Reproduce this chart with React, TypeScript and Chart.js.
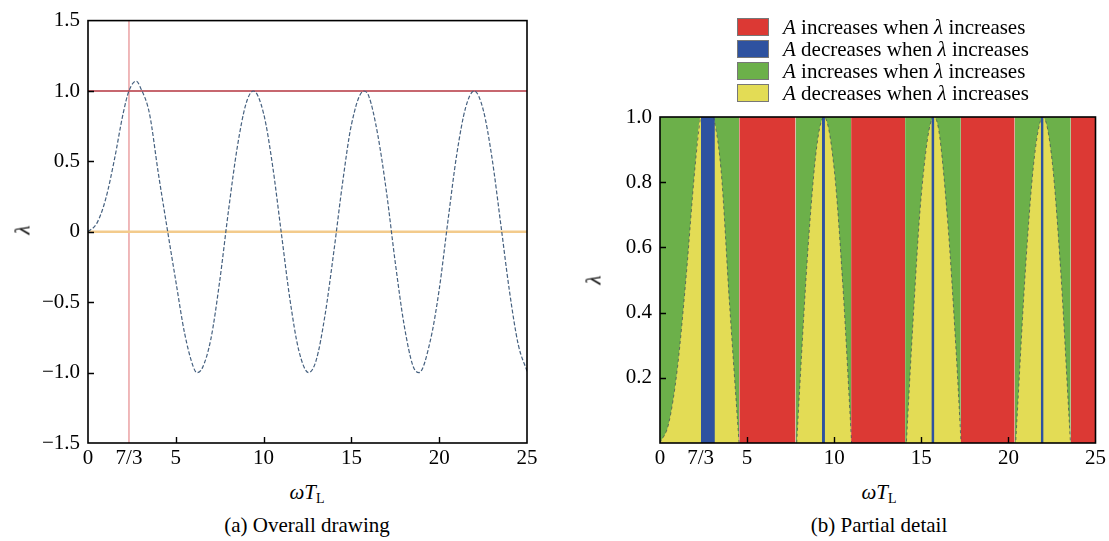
import React, { useEffect, useRef } from 'react';
import { Chart, registerables } from 'chart.js';

Chart.register(...registerables);

const FONT = "'Liberation Serif', 'Times New Roman', serif";
const FS = 21;

// ωT_L sample positions and λ
const omegaTL = [
  0, 0.5, 1, 1.5, 2, 2.33, 2.75, 3, 3.5, 4, 4.5, 5, 5.5, 6, 6.2, 6.5, 7, 7.5, 8, 8.5,
  9, 9.42, 10, 10.5, 11, 11.5, 12, 12.57, 13, 13.5, 14, 14.5, 15, 15.71, 16, 16.5,
  17, 17.5, 18, 18.5, 18.85, 19.5, 20, 20.5, 21, 21.5, 21.99, 22.5, 23, 23.5, 24, 24.5, 25,
];
const lambdaValues = [
  0, 0.06, 0.23, 0.51, 0.84, 1.0, 1.07, 1.02, 0.84, 0.42, 0.03, -0.35, -0.72, -0.96, -1.0, -0.97, -0.76, -0.35, 0.15, 0.6,
  0.91, 1.0, 0.84, 0.48, 0.0, -0.48, -0.84, -1.0, -0.91, -0.59, -0.14, 0.35, 0.76, 1.0, 0.96, 0.69,
  0.28, -0.22, -0.66, -0.95, -1.0, -0.77, -0.41, 0.08, 0.55, 0.88, 1.0, 0.87, 0.53, 0.06, -0.42, -0.8, -0.99,
];

// reference lines of panel (a)
const upperLevel = 1;
const zeroLevel = 0;
const crossOmega = 7 / 3;

// tick labels
const xTickValues = [0, 7 / 3, 5, 10, 15, 20, 25];
const xTickLabels = ['0', '7/3', '5', '10', '15', '20', '25'];
const leftYTickValues = [-1.5, -1, -0.5, 0, 0.5, 1, 1.5];
const leftYTickLabels = ['\u22121.5', '\u22121.0', '\u22120.5', '0', '0.5', '1.0', '1.5'];
const rightYTickValues = [0.2, 0.4, 0.6, 0.8, 1.0];
const rightYTickLabels = ['0.2', '0.4', '0.6', '0.8', '1.0'];

// region bands of panel (b), [start, end] in ωT_L
const redBands = [[4.55, 7.78], [10.97, 14.07], [17.27, 20.36], [23.58, 25]];
const greenBands = [[0, 4.55], [7.78, 10.97], [14.07, 17.27], [20.36, 23.58]];
const blueBands = [[2.35, 3.15], [9.3, 9.47], [15.58, 15.75], [21.86, 22.02]];

const RED = '#dc3934';
const BLUE = '#2e52a0';
const GREEN = '#6cb04a';
const YELLOW = '#e3dc55';

const legendLabels = [
  { color: RED, verb: 'increases' },
  { color: BLUE, verb: 'decreases' },
  { color: GREEN, verb: 'increases' },
  { color: YELLOW, verb: 'decreases' },
];

const framePlugin = {
  id: 'frameTicks',
  afterDraw(chart: any, _args: any, opts: any) {
    const { ctx, chartArea: a } = chart;
    const xs = chart.scales.x;
    const ys = chart.scales.y;
    ctx.save();
    ctx.strokeStyle = '#000';
    ctx.lineWidth = 1.6;
    ctx.strokeRect(a.left, a.top, a.right - a.left, a.bottom - a.top);
    ctx.lineWidth = 1.4;
    ctx.beginPath();
    for (const v of opts.xMarks || []) {
      const px = Math.round(xs.getPixelForValue(v)) + 0.5;
      ctx.moveTo(px, a.bottom);
      ctx.lineTo(px, a.bottom - 6);
    }
    for (const v of opts.yMarks || []) {
      const py = Math.round(ys.getPixelForValue(v)) + 0.5;
      ctx.moveTo(a.left, py);
      ctx.lineTo(a.left + 6, py);
    }
    ctx.stroke();
    ctx.restore();
  },
};

function curvePoints(cap?: number) {
  return omegaTL.map((x, i) => ({
    x,
    y: cap === undefined ? lambdaValues[i] : Math.min(lambdaValues[i], cap),
  }));
}

function bandDataset(band: number[], color: string, order: number) {
  return {
    data: [{ x: band[0], y: 1 }, { x: band[1], y: 1 }],
    borderColor: 'transparent',
    borderWidth: 0,
    backgroundColor: color,
    fill: 'origin',
    pointRadius: 0,
    tension: 0,
    order,
  };
}

function scalesFor(yMin: number, yMax: number, yVals: number[], yLabels: string[], yWidth: number, xHeight: number) {
  const tickFont = { family: FONT, size: FS };
  return {
    x: {
      type: 'linear',
      min: 0,
      max: 25,
      afterBuildTicks: (s: any) => {
        s.ticks = xTickValues.map((v) => ({ value: v }));
      },
      afterFit: (s: any) => {
        s.height = xHeight;
      },
      ticks: {
        callback: (_v: any, i: number) => xTickLabels[i],
        font: tickFont,
        color: '#000',
        padding: 3,
        maxRotation: 0,
        autoSkip: false,
      },
      grid: { display: false, drawTicks: false },
      border: { display: false },
    },
    y: {
      type: 'linear',
      min: yMin,
      max: yMax,
      afterBuildTicks: (s: any) => {
        s.ticks = yVals.map((v) => ({ value: v }));
      },
      afterFit: (s: any) => {
        s.width = yWidth;
      },
      ticks: {
        callback: (_v: any, i: number) => yLabels[i],
        font: tickFont,
        color: '#000',
        padding: 8,
        autoSkip: false,
      },
      grid: { display: false, drawTicks: false },
      border: { display: false },
    },
  };
}

function LeftChart() {
  const ref = useRef<HTMLCanvasElement>(null);
  useEffect(() => {
    const chart = new Chart(ref.current as HTMLCanvasElement, {
      type: 'line',
      data: {
        datasets: [
          {
            data: curvePoints(),
            borderColor: '#45607f',
            borderWidth: 1.2,
            borderDash: [4, 2],
            pointRadius: 0,
            cubicInterpolationMode: 'monotone',
            fill: false,
            order: 0,
          },
          {
            data: [{ x: 0, y: upperLevel }, { x: 25, y: upperLevel }],
            borderColor: '#b4343f',
            borderWidth: 1.5,
            pointRadius: 0,
            fill: false,
            order: 1,
          },
          {
            data: [{ x: 0, y: zeroLevel }, { x: 25, y: zeroLevel }],
            borderColor: '#f3cb8c',
            borderWidth: 2.5,
            pointRadius: 0,
            fill: false,
            order: 2,
          },
          {
            data: [{ x: crossOmega, y: -1.5 }, { x: crossOmega, y: 1.5 }],
            borderColor: '#e58a8c',
            borderWidth: 1.2,
            pointRadius: 0,
            fill: false,
            order: 3,
          },
        ],
      } as any,
      options: {
        responsive: false,
        animation: false,
        layout: { padding: { top: 16, right: 18, left: 0, bottom: 0 } },
        plugins: {
          legend: { display: false },
          tooltip: { enabled: false },
          frameTicks: { xMarks: [5, 10, 15, 20], yMarks: [-1, -0.5, 0, 0.5, 1] },
        } as any,
        scales: scalesFor(-1.5, 1.5, leftYTickValues, leftYTickLabels, 88, 32) as any,
      },
      plugins: [framePlugin],
    });
    return () => chart.destroy();
  }, []);
  return <canvas ref={ref} width={545} height={475} style={{ position: 'absolute', left: 0, top: 0 }} />;
}

function RightChart() {
  const ref = useRef<HTMLCanvasElement>(null);
  useEffect(() => {
    const datasets: any[] = [
      {
        data: curvePoints(),
        borderColor: 'rgba(60,72,90,0.7)',
        borderWidth: 1,
        borderDash: [3, 3],
        pointRadius: 0,
        cubicInterpolationMode: 'monotone',
        fill: false,
        order: 0,
      },
      ...blueBands.map((b) => bandDataset(b, BLUE, 1)),
      ...redBands.map((b) => bandDataset(b, RED, 2)),
      {
        data: curvePoints(1),
        borderColor: 'transparent',
        borderWidth: 0,
        backgroundColor: YELLOW,
        fill: 'origin',
        pointRadius: 0,
        cubicInterpolationMode: 'monotone',
        order: 3,
      },
      ...greenBands.map((b) => bandDataset(b, GREEN, 4)),
    ];
    const chart = new Chart(ref.current as HTMLCanvasElement, {
      type: 'line',
      data: { datasets } as any,
      options: {
        responsive: false,
        animation: false,
        layout: { padding: { top: 117, right: 11, left: 0, bottom: 0 } },
        plugins: {
          legend: { display: false },
          tooltip: { enabled: false },
          frameTicks: { xMarks: [5, 10, 15, 20], yMarks: [0.2, 0.4, 0.6, 0.8] },
        } as any,
        scales: scalesFor(0, 1, rightYTickValues, rightYTickLabels, 100, 32) as any,
      },
      plugins: [framePlugin],
    });
    return () => chart.destroy();
  }, []);
  return <canvas ref={ref} width={549} height={475} style={{ position: 'absolute', left: 560, top: 0 }} />;
}

const textBase: React.CSSProperties = {
  position: 'absolute',
  fontFamily: FONT,
  fontSize: FS,
  color: '#000',
  lineHeight: 1,
  whiteSpace: 'nowrap',
  transform: 'translate(-50%, -50%)',
};

function AxisX({ cx }: { cx: number }) {
  return (
    <div style={{ ...textBase, left: cx, top: 492 }}>
      <i>ωT</i>
      <span style={{ fontSize: 14, position: 'relative', top: 4 }}>L</span>
    </div>
  );
}

function Lambda({ cx, cy }: { cx: number; cy: number }) {
  return (
    <div style={{ ...textBase, left: cx, top: cy, transform: 'translate(-50%, -50%) rotate(-90deg)' }}>
      <i>λ</i>
    </div>
  );
}

export default function App() {
  return (
    <div style={{ position: 'absolute', left: 0, top: 0, width: 1109, height: 541, background: '#fff', overflow: 'hidden' }}>
      <LeftChart />
      <RightChart />
      <Lambda cx={23} cy={230} />
      <Lambda cx={594} cy={280} />
      <AxisX cx={307} />
      <AxisX cx={879} />
      <div style={{ ...textBase, left: 307, top: 525 }}>(a) Overall drawing</div>
      <div style={{ ...textBase, left: 879, top: 525 }}>(b) Partial detail</div>
      {legendLabels.map((item, i) => (
        <div key={i} style={{ position: 'absolute', left: 737, top: 18 + i * 22, height: 18, display: 'flex', alignItems: 'center' }}>
          <div style={{ width: 32, height: 18, background: item.color, border: '1px solid #777', boxSizing: 'border-box', flex: 'none' }} />
          <div style={{ marginLeft: 14, fontFamily: FONT, fontSize: FS, lineHeight: 1, whiteSpace: 'nowrap', color: '#000' }}>
            <i>A</i> {item.verb} when <i>λ</i> increases
          </div>
        </div>
      ))}
    </div>
  );
}
